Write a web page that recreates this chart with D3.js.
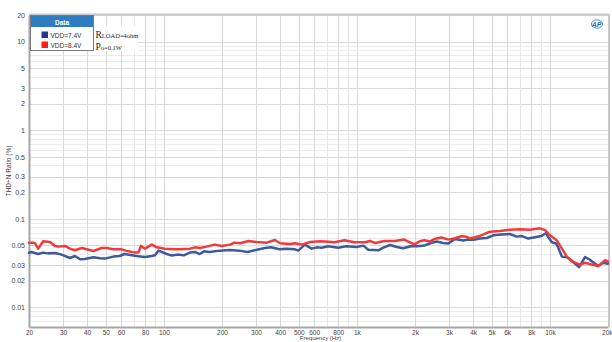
<!DOCTYPE html>
<html>
<head>
<meta charset="utf-8">
<script src="https://cdn.jsdelivr.net/npm/d3@7"></script>
<style>
  html, body { margin: 0; padding: 0; background: #fff; }
  svg { display: block; }
  text { font-family: "Liberation Sans", Arial, sans-serif; }
</style>
</head>
<body>
<svg id="chart" width="612" height="342"></svg>
<script>
// THD+N ratio (%) vs frequency, two supply voltages
const freq74 = [20, 20.6, 22.3, 23.7, 25.1, 27.3, 29.5, 32.6, 34.6, 36.8, 38.9, 43.1, 46.7, 49.5, 54.7, 59, 62.5, 68.3, 73.7, 79.8,
  86.5, 89.9, 93.5, 103.5, 110, 117, 126.6, 136.5, 145, 153, 162, 172, 195, 220, 246, 271, 300, 334, 359, 397,
  431, 478, 497, 537, 583, 620, 656, 710, 800, 880, 997, 1080, 1145, 1290, 1370, 1485, 1610, 1740, 1900, 2060,
  2235, 2420, 2590, 2800, 2976, 3220, 3560, 3700, 4010, 4340, 4700, 5100, 5620, 6210, 6730, 7130, 7720, 8360, 9040, 9520,
  10220, 10840, 11540, 12270, 13310, 14160, 15200, 15960, 17800, 18900, 20000];
const thd74 = [0.0413, 0.0422, 0.0400, 0.0415, 0.0407, 0.0410, 0.0394, 0.0361, 0.0380, 0.0349,
  0.0351, 0.0367, 0.0358, 0.0355, 0.0374, 0.0380, 0.0400, 0.0387, 0.0377, 0.0370,
  0.0380, 0.0387, 0.0437, 0.0400, 0.0384, 0.0394, 0.0387, 0.0415, 0.0422, 0.0400,
  0.0429, 0.0422, 0.0437, 0.0444, 0.0437, 0.0422, 0.0444, 0.0468, 0.0476, 0.0452,
  0.0460, 0.0452, 0.0437, 0.0511, 0.0460, 0.0476, 0.0472, 0.0489, 0.0472, 0.0489,
  0.0480, 0.0498, 0.0448, 0.0441, 0.0472, 0.0506, 0.0480, 0.0464, 0.0489, 0.0489,
  0.0498, 0.0533, 0.0553, 0.0533, 0.0525, 0.0592, 0.0568, 0.0578, 0.0578, 0.0598,
  0.0607, 0.0651, 0.0663, 0.0674, 0.0629, 0.0640, 0.0598, 0.0618, 0.0640, 0.0686,
  0.0547, 0.0519, 0.0374, 0.0367, 0.0319, 0.0285, 0.0370, 0.0349, 0.0293, 0.0319, 0.0311];

const freq84 = [20, 21, 21.5, 22.3, 23.7, 25.7, 27.3, 28.4, 30.7, 32.6, 34.6, 37.5, 39.8, 43.1, 47.6, 50.5, 54.7, 60.4, 65.4, 70.8,
  73.7, 76.1, 79.8, 86.5, 91.8, 101, 114, 121, 136.5, 145, 154, 166, 183, 199, 220, 232, 248, 274, 302, 341,
  376, 400, 450, 478, 518, 572, 644, 683, 767, 862, 970, 1100, 1169, 1240, 1390, 1565, 1760, 1985, 2100, 2235,
  2390, 2530, 2740, 2976, 3220, 3480, 3700, 3860, 4340, 4890, 5510, 6210, 7000, 7880, 8890, 9440, 10000, 10840, 11540, 12270,
  13310, 14320, 15200, 16480, 17800, 19330, 20000];
const thd84 = [0.0538, 0.0538, 0.0529, 0.0460, 0.0557, 0.0547, 0.0494, 0.0485, 0.0494, 0.0460,
  0.0441, 0.0468, 0.0452, 0.0433, 0.0468, 0.0468, 0.0452, 0.0452, 0.0429, 0.0415,
  0.0415, 0.0494, 0.0460, 0.0511, 0.0476, 0.0460, 0.0452, 0.0452, 0.0460, 0.0476,
  0.0468, 0.0485, 0.0511, 0.0494, 0.0511, 0.0538, 0.0529, 0.0562, 0.0547, 0.0538,
  0.0577, 0.0529, 0.0519, 0.0529, 0.0511, 0.0547, 0.0557, 0.0553, 0.0543, 0.0572,
  0.0543, 0.0543, 0.0562, 0.0533, 0.0562, 0.0562, 0.0582, 0.0515, 0.0553, 0.0572,
  0.0553, 0.0592, 0.0614, 0.0582, 0.0602, 0.0634, 0.0626, 0.0598, 0.0640, 0.0716,
  0.0727, 0.0752, 0.0761, 0.0752, 0.0780, 0.0744, 0.0651, 0.0572, 0.0460, 0.0370,
  0.0324, 0.0304, 0.0319, 0.0304, 0.0293, 0.0341, 0.0328];

const seriesNames = ["VDD=7.4V", "VDD=8.4V"];
const seriesColors = ["#3d5a9b", "#f23a3d"];
const legendColors = ["#1d3c8c", "#ff1a1a"];

const xTickValues = [20, 30, 40, 50, 60, 80, 100, 200, 300, 400, 500, 600, 800, 1000, 2000, 3000, 4000, 5000, 6000, 8000, 10000, 20000];
const xTickLabels = ["20", "30", "40", "50", "60", "80", "100", "200", "300", "400", "500", "600", "800", "1k", "2k", "3k", "4k", "5k", "6k", "8k", "10k", "20k"];
const yTickValues = [20, 10, 5, 3, 2, 1, 0.5, 0.3, 0.2, 0.1, 0.05, 0.03, 0.02, 0.01];
const yTickLabels = ["20", "10", "5", "3", "2", "1", "0.5", "0.3", "0.2", "0.1", "0.05", "0.03", "0.02", "0.01"];

const svg = d3.select("#chart");
const plotL = 29, plotR = 608, plotT = 15, plotB = 327;

const x = d3.scaleLog().domain([20, 20000]).range([plotL, plotR]);
const y = d3.scaleLog().domain([0.006, 20]).range([plotB, plotT]);

// grid: every 1..9 multiple per decade
const xGrid = [];
for (let d = 10; d <= 10000; d *= 10) for (let m = 1; m <= 9; m++) { const v = d * m; if (v >= 20 && v <= 20000) xGrid.push(v); }
xGrid.push(20000);
const yMinor = [];
for (let d = 0.001; d <= 10; d *= 10) for (let m = 1; m <= 9; m++) { const v = +(d * m).toPrecision(3); if (v > 0.006 && v < 20 && !yTickValues.includes(v)) yMinor.push(v); }

const grid = svg.append("g");
grid.selectAll(".ym").data(yMinor).join("line")
  .attr("x1", plotL).attr("x2", plotR)
  .attr("y1", d => Math.round(y(d)) + 0.5).attr("y2", d => Math.round(y(d)) + 0.5)
  .attr("stroke", "#ececec").attr("stroke-width", 1);
grid.selectAll(".yM").data(yTickValues).join("line")
  .attr("x1", plotL).attr("x2", plotR)
  .attr("y1", d => Math.round(y(d)) + 0.5).attr("y2", d => Math.round(y(d)) + 0.5)
  .attr("stroke", "#d9d9d9").attr("stroke-width", 1);
grid.selectAll(".xg").data(xGrid).join("line")
  .attr("y1", plotT).attr("y2", plotB)
  .attr("x1", d => Math.round(x(d)) + 0.5).attr("x2", d => Math.round(x(d)) + 0.5)
  .attr("stroke", d => xTickValues.includes(d) ? "#d9d9d9" : "#e6e6e6").attr("stroke-width", 1);

// frame
svg.append("line").attr("x1", plotL).attr("x2", plotR + 1).attr("y1", plotT - 0.5).attr("y2", plotT - 0.5)
  .attr("stroke", "#c8c8c8").attr("stroke-width", 2);
svg.append("line").attr("x1", plotR + 1).attr("x2", plotR + 1).attr("y1", plotT - 1).attr("y2", plotB)
  .attr("stroke", "#c8c8c8").attr("stroke-width", 2);

// axes
const xAxis = d3.axisBottom(x).tickValues(xTickValues).tickFormat((d, i) => xTickLabels[i]).tickSize(0).tickPadding(3);
const gx = svg.append("g").attr("transform", `translate(0,${plotB})`).call(xAxis);
gx.select(".domain").attr("stroke", "#a6a6a6").attr("stroke-width", 2);
gx.selectAll("text").attr("font-size", 6.5).attr("fill", "#444");
// keep the last label inside the page
gx.selectAll(".tick").filter(d => d === 20000).select("text").attr("text-anchor", "end").attr("x", 4);

const yAxis = d3.axisLeft(y).tickValues(yTickValues).tickFormat((d, i) => yTickLabels[i]).tickSize(0).tickPadding(4);
const gy = svg.append("g").attr("transform", `translate(${plotL},0)`).call(yAxis);
gy.select(".domain").attr("stroke", "#a6a6a6").attr("stroke-width", 2);
gy.selectAll("text").attr("font-size", 7).attr("fill", "#444");

svg.append("text").attr("x", (plotL + plotR) / 2 + 2).attr("y", 340.3)
  .attr("text-anchor", "middle").attr("font-size", 6).attr("fill", "#444").text("Frequency (Hz)");
svg.append("text").attr("transform", `translate(11,${(plotT + plotB) / 2}) rotate(-90)`)
  .attr("text-anchor", "middle").attr("font-size", 6.5).attr("fill", "#444").text("THD+N Ratio (%)");

// curves
const line = d3.line().x(d => x(d[0])).y(d => y(d[1])).curve(d3.curveLinear);
const series = [d3.zip(freq74, thd74), d3.zip(freq84, thd84)];
svg.append("g").selectAll("path").data(series).join("path")
  .attr("d", line).attr("fill", "none")
  .attr("stroke", (d, i) => seriesColors[i]).attr("stroke-width", 2.5)
  .attr("stroke-linejoin", "round").attr("stroke-linecap", "round");

// legend
const lg = svg.append("g").attr("transform", "translate(30.5,15.5)");
lg.append("rect").attr("width", 63).attr("height", 35).attr("fill", "#fff").attr("stroke", "#7a7a7a").attr("stroke-width", 1);
lg.append("rect").attr("x", 0.5).attr("y", 0.5).attr("width", 62).attr("height", 11).attr("fill", "#2e7dc0");
lg.append("text").attr("x", 31.5).attr("y", 9).attr("text-anchor", "middle")
  .attr("font-size", 6.5).attr("font-weight", "bold").attr("fill", "#fff").text("Data");
seriesNames.forEach((n, i) => {
  const yy = 16 + i * 10;
  lg.append("rect").attr("x", 11).attr("y", yy).attr("width", 6.5).attr("height", 6.5).attr("fill", legendColors[i]);
  lg.append("text").attr("x", 20).attr("y", yy + 6).attr("font-size", 6.5).attr("fill", "#333").text(n);
});

// annotations
svg.append("rect").attr("x", 94).attr("y", 26).attr("width", 44).attr("height", 25).attr("fill", "#fff");
const ann = [["R", "LOAD=4ohm", 37.5], ["P", "o=0.1W", 50]];
ann.forEach(a => {
  const t = svg.append("text").attr("x", 95.5).attr("y", a[2]).attr("fill", "#222")
    .style("font-family", "'Liberation Serif', 'DejaVu Serif', serif");
  t.append("tspan").attr("font-size", 9.5).text(a[0]);
  t.append("tspan").attr("font-size", 6.5).text(a[1]);
});

// AP mark
const ap = svg.append("g").attr("transform", "translate(597,24)");
ap.append("ellipse").attr("rx", 5.5).attr("ry", 4.2).attr("fill", "none").attr("stroke", "#3b82c8").attr("stroke-width", 0.9);
ap.append("text").attr("x", -0.5).attr("y", 2.5).attr("text-anchor", "middle")
  .attr("font-size", 7).attr("font-style", "italic").attr("font-weight", "bold").attr("fill", "#2a6fbf").text("AP");
</script>
</body>
</html>
